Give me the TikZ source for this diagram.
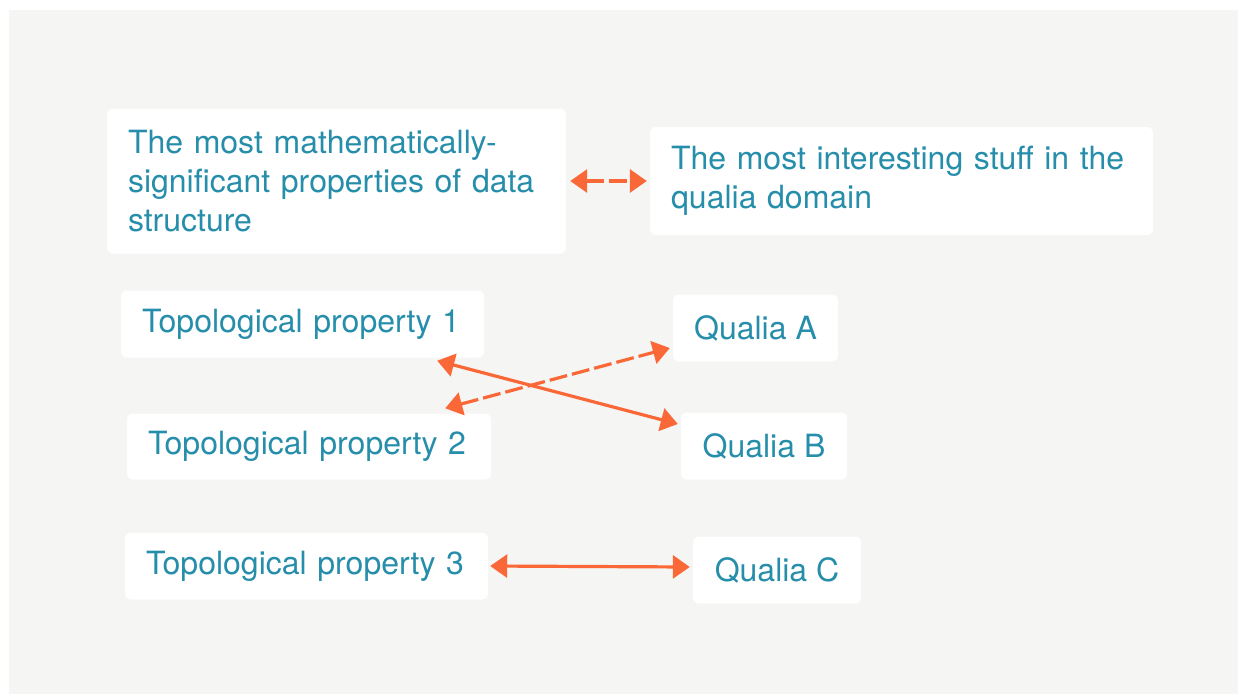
\documentclass[tikz,border=0pt]{standalone}
\usepackage{fontspec}
\setmainfont{TeX Gyre Heros}
\usetikzlibrary{arrows.meta,calc}
\definecolor{panel}{RGB}{245,246,244}
\definecolor{ink}{RGB}{38,142,170}
\definecolor{link}{RGB}{250,104,56}

\begin{document}
\begin{tikzpicture}[x=1pt,y=-1pt,
		box/.style={fill=white,rounded corners=6pt,inner xsep=21pt,inner ysep=0pt,text=ink,align=left,font=\fontsize{32}{39}\selectfont},
		tag/.style={box,align=center,minimum height=67pt},
		tie/.style={link,line width=3.2pt,{Triangle[length=17pt,width=23pt]}-{Triangle[length=17pt,width=23pt]}},
		loose/.style={tie,dash pattern=on 18pt off 5pt}]
			\useasboundingbox (0,0) rectangle (1238,694);
			\fill[white] (0,0) rectangle (1238,694);
			\fill[panel] (9,10) rectangle (1238,694);
			% heading pair
			\node[box,text width=417pt,minimum height=145pt] (math) at (336.5,181) {The most mathematically-\\significant properties of data\\structure};
			\node[box,text width=461pt,minimum height=108pt] (stuff) at (901.5,181) {The most interesting stuff in the\\qualia domain};
			% properties and qualia
			\node[box,text width=321pt,minimum height=67pt] (top1) at (302.5,324) {Topological property 1};
			\node[box,text width=322pt,minimum height=66pt] (top2) at (309,446.5) {Topological property 2};
			\node[box,text width=321pt,minimum height=67pt] (top3) at (306.5,566) {Topological property 3};
			\node[tag,minimum width=165pt] (quala) at (755.5,328) {Qualia A};
			\node[tag,minimum width=166pt] (qualb) at (764,446) {Qualia B};
			\node[tag,minimum width=168pt] (qualc) at (777,570) {Qualia C};
			% links
			\draw[loose] ([xshift=4pt]math.east) -- ([xshift=-3pt]stuff.west);
			\draw[tie] ($(top1.south east)+(-47,3)$) -- ($(qualb.west)+(-3,-22)$);
			\draw[loose] ($(top2.north east)+(-46,-5)$) -- ($(quala.west)+(-3,20)$);
			\draw[tie] ([xshift=2pt]top3.east) -- ([xshift=-3pt,yshift=3pt]qualc.west);
		\end{tikzpicture}
\end{document}
